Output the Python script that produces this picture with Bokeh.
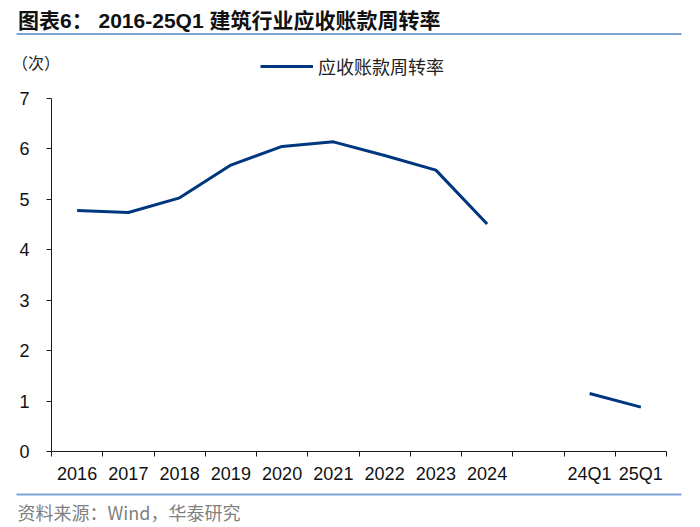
from bokeh.plotting import figure
from bokeh.models import (Range1d, FixedTicker, Legend, LegendItem, Label,
                          BoxAnnotation, ColumnDataSource)
from bokeh.embed import file_html
from bokeh.resources import INLINE

categories = ["2016", "2017", "2018", "2019", "2020", "2021", "2022", "2023", "2024", "", "24Q1", "25Q1"]
turnover = [4.78, 4.74, 5.03, 5.68, 6.05, 6.14, 5.87, 5.58, 4.51, float("nan"), 1.15, 0.88]
y_ticks = [0, 1, 2, 3, 4, 5, 6, 7]

title_text = "图表6： 2016-25Q1 建筑行业应收账款周转率"
series_name = "应收账款周转率"
unit_text = "（次）"
source_text = "资料来源：Wind，华泰研究"

W, H = 700, 527
# where the value axes sit on the canvas (pixels)
AX_L, AX_R, AX_T, AX_B = 51, 666, 98, 451
LINE_COLOR = "#00367f"
RULE_COLOR = "#7ba3d6"
AXIS_COLOR = "#1a1a1a"
CJK = "Noto Sans CJK SC"
MIX = "Liberation Sans, Noto Sans CJK SC"

n = len(categories)
ux = (AX_R - AX_L) / n
uy = (AX_B - AX_T) / 7.0
x_range = Range1d(-AX_L / ux, n + (W - AX_R) / ux)
y_range = Range1d(-(H - AX_B) / uy, 7 + AX_T / uy)

p = figure(width=W, height=H, output_backend="svg", toolbar_location=None,
           x_range=x_range, y_range=y_range, min_border=0)
p.grid.visible = False
p.outline_line_color = None

xs = [i + 0.5 for i in range(n)]
src = ColumnDataSource(dict(x=xs, y=turnover, cat=categories))
r = p.line("x", "y", source=src, line_color=LINE_COLOR, line_width=3)

xa = p.xaxis[0]
xa.fixed_location = 0
xa.bounds = (0, n)
xa.ticker = FixedTicker(ticks=xs, minor_ticks=list(range(n + 1)))
xa.major_label_overrides = {x: c for x, c in zip(xs, categories)}
xa.major_tick_in = 0
xa.major_tick_out = 0
xa.minor_tick_in = 0
xa.minor_tick_out = 5
xa.minor_tick_line_color = AXIS_COLOR
xa.major_label_standoff = 7
xa.major_label_text_font = "Liberation Sans"
xa.major_label_text_font_size = "18px"
xa.major_label_text_color = "#111111"
xa.axis_line_color = AXIS_COLOR

ya = p.yaxis[0]
ya.fixed_location = 0
ya.bounds = (0, 7)
ya.ticker = FixedTicker(ticks=y_ticks, minor_ticks=[])
ya.major_tick_in = 0
ya.major_tick_out = 5
ya.major_tick_line_color = AXIS_COLOR
ya.major_label_standoff = 17
ya.major_label_text_font = "Liberation Sans"
ya.major_label_text_font_size = "18px"
ya.major_label_text_color = "#111111"
ya.axis_line_color = AXIS_COLOR

legend = Legend(items=[LegendItem(label=series_name, renderers=[r])],
                location=(260, H - 68.5 - 10), orientation="horizontal",
                glyph_width=53, glyph_height=20, label_height=20, label_standoff=5,
                padding=0, margin=0, border_line_color=None, background_fill_alpha=0,
                label_text_font=CJK, label_text_font_size="18px",
                label_text_color="#222222")
p.add_layout(legend)

# screen units: pixels from the frame's bottom-left corner (frame = whole canvas)
p.add_layout(Label(x=17.5, y=H - 19.5, x_units="screen", y_units="screen", text=title_text,
                   text_font=MIX, text_font_size="21px", text_font_style="bold",
                   text_color="#111111", text_baseline="middle", text_align="left"))
p.add_layout(BoxAnnotation(left=16, right=681, bottom=H - 34.5, top=H - 32.5,
                           left_units="screen", right_units="screen",
                           bottom_units="screen", top_units="screen",
                           fill_color=RULE_COLOR, fill_alpha=1, line_color=None))

p.add_layout(Label(x=11.5, y=H - 61.7, x_units="screen", y_units="screen", text=unit_text,
                   text_font=CJK, text_font_size="16px", text_color="#222222",
                   text_baseline="middle", text_align="left"))

p.add_layout(BoxAnnotation(left=16, right=681, bottom=H - 495, top=H - 493,
                           left_units="screen", right_units="screen",
                           bottom_units="screen", top_units="screen",
                           fill_color=RULE_COLOR, fill_alpha=1, line_color=None))
p.add_layout(Label(x=17, y=H - 511.5, x_units="screen", y_units="screen", text=source_text,
                   text_font=CJK, text_font_size="18px", text_color="#808080",
                   text_baseline="middle", text_align="left"))

open("out.html", "w").write(file_html(p, INLINE))
